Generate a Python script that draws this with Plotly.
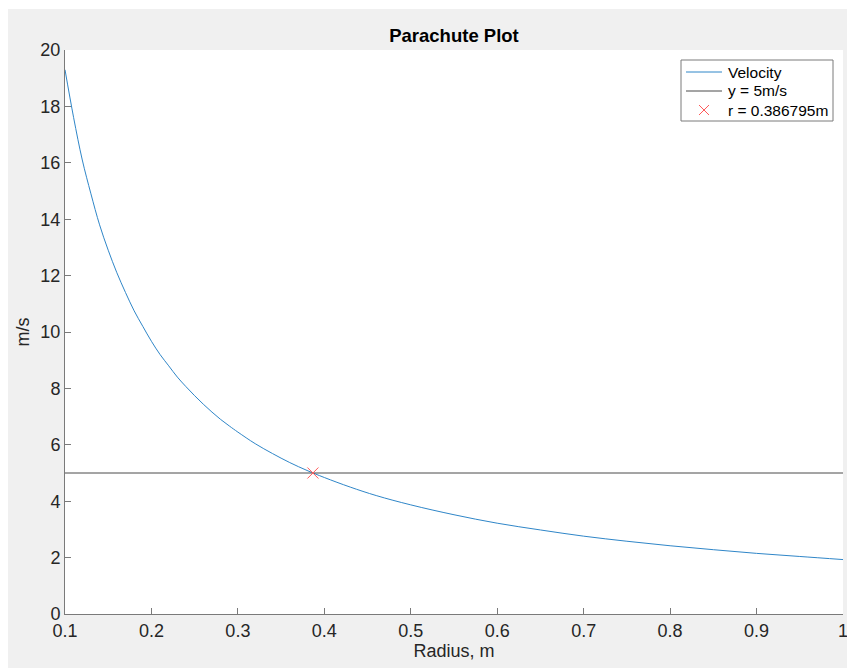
import plotly.graph_objects as go

# Data
radius = [0.10, 0.11, 0.12, 0.13, 0.14, 0.15, 0.16, 0.17, 0.18, 0.19, 0.20, 0.21,
          0.22, 0.23, 0.24, 0.25, 0.26, 0.27, 0.28, 0.29, 0.30, 0.32, 0.34, 0.36,
          0.38, 0.40, 0.43, 0.46, 0.50, 0.55, 0.60, 0.65, 0.70, 0.75, 0.80, 0.85,
          0.90, 0.95, 1.00]
velocity = [19.3, 17.6, 16.1, 14.9, 13.8, 12.9, 12.1, 11.4, 10.75, 10.2, 9.67, 9.2,
            8.8, 8.4, 8.06, 7.74, 7.44, 7.16, 6.9, 6.67, 6.45, 6.04, 5.69, 5.37,
            5.09, 4.84, 4.5, 4.2, 3.87, 3.52, 3.22, 2.98, 2.76, 2.58, 2.42, 2.28,
            2.15, 2.04, 1.93]
target_x = [0.1, 1.0]
target_y = [5, 5]
cross_r = [0.386795]
cross_v = [5]

series_names = ["Velocity", "y = 5m/s", "r = 0.386795m"]

x_ticks = [0.1, 0.2, 0.3, 0.4, 0.5, 0.6, 0.7, 0.8, 0.9, 1]
x_tick_text = ["0.1", "0.2", "0.3", "0.4", "0.5", "0.6", "0.7", "0.8", "0.9", "1"]
y_ticks = [0, 2, 4, 6, 8, 10, 12, 14, 16, 18, 20]

FONT = "Liberation Sans, Arial, Helvetica, sans-serif"
TXT = "#262626"
AX = "#7a7a7a"
BLUE = "#2f86c8"
DARK = "#4a4a4a"
RED = "#ff5a5a"

fig = go.Figure()
fig.add_trace(go.Scatter(x=radius, y=velocity, mode="lines", name=series_names[0],
                         line=dict(color=BLUE, width=1, shape="spline"), showlegend=False))
fig.add_trace(go.Scatter(x=target_x, y=target_y, mode="lines", name=series_names[1],
                         line=dict(color=DARK, width=1), showlegend=False))
fig.add_trace(go.Scatter(x=cross_r, y=cross_v, mode="markers", name=series_names[2],
                         marker=dict(symbol="x-thin-open", size=11, color=RED,
                                     line=dict(color=RED, width=1)), showlegend=False))

# page pixel layout (body margin removed by post_script)
L, R, T, B = 65, 4, 50, 54
W, H = 847, 668
pw, ph = W - L - R, H - T - B

def px(fx):
    return (fx - L) / pw

def py(fy):
    return (H - B - fy) / ph

shapes = [
    # grey figure window (starts at 8,9 like the reference capture)
    dict(type="rect", xref="paper", yref="paper", layer="below",
         x0=px(8), x1=px(W + 5), y0=py(H + 5), y1=py(9),
         fillcolor="#f0f0f0", line=dict(width=0)),
    # white axes area
    dict(type="rect", xref="paper", yref="paper", layer="below",
         x0=0, x1=1, y0=0, y1=1, fillcolor="white", line=dict(width=0)),
    # hand-drawn MATLAB-style legend box
    dict(type="rect", xref="paper", yref="paper", x0=px(681), x1=px(833),
         y0=py(121), y1=py(60), fillcolor="white", line=dict(color="#7a7a7a", width=1)),
    dict(type="line", xref="paper", yref="paper", x0=px(686), x1=px(722),
         y0=py(72), y1=py(72), line=dict(color=BLUE, width=1)),
    dict(type="line", xref="paper", yref="paper", x0=px(686), x1=px(722),
         y0=py(91), y1=py(91), line=dict(color=DARK, width=1)),
    dict(type="line", xref="paper", yref="paper", x0=px(699), x1=px(709),
         y0=py(105), y1=py(115), line=dict(color=RED, width=1)),
    dict(type="line", xref="paper", yref="paper", x0=px(699), x1=px(709),
         y0=py(115), y1=py(105), line=dict(color=RED, width=1)),
]
annotations = [
    dict(text=name, xref="paper", yref="paper", x=px(726), y=py(fy), xanchor="left",
         yanchor="middle", showarrow=False, font=dict(size=15.5, color="black"))
    for name, fy in zip(series_names, [72, 91, 110])
]
# last x tick label sits at the very edge of the window; drawn as an annotation so
# plotly neither hides it nor pushes the margin
annotations.append(dict(text=x_tick_text[-1], xref="x", yref="paper", x=x_ticks[-1], y=0,
                        xanchor="center", yanchor="middle", yshift=-17, showarrow=False,
                        font=dict(size=18, color=TXT, family=FONT)))
shown_tick_text = x_tick_text[:-1] + [""]

fig.update_layout(
    width=W, height=H,
    margin=dict(l=L, r=R, t=T, b=B),
    paper_bgcolor="white",
    plot_bgcolor="white",
    font=dict(family=FONT, color=TXT, size=18),
    title=dict(text="<b>Parachute Plot</b>", x=0.5, xref="paper", xanchor="center",
               y=1 - 36 / H, yref="container", yanchor="middle",
               font=dict(size=18.5, color="black")),
    showlegend=False,
    shapes=shapes,
    annotations=annotations,
)

fig.update_xaxes(range=[0.1, 1], tickvals=x_ticks, ticktext=shown_tick_text,
                 showgrid=False, zeroline=False, showline=True, linecolor=AX, linewidth=1,
                 ticks="inside", ticklen=6, tickcolor=AX, mirror=False, automargin=False,
                 tickfont=dict(size=18, color=TXT),
                 title=dict(text="Radius, m", font=dict(size=18, color=TXT), standoff=2))
fig.update_yaxes(range=[0, 20], tickvals=y_ticks,
                 showgrid=False, zeroline=False, showline=True, linecolor=AX, linewidth=1,
                 ticks="inside", ticklen=6, tickcolor=AX, mirror=False, automargin=False,
                 tickfont=dict(size=18, color=TXT),
                 title=dict(text="m/s", font=dict(size=18, color=TXT), standoff=6))

fig.write_html("out.html", config={"responsive": False, "displayModeBar": False},
               post_script="document.body.style.margin='0';"
                           "document.documentElement.style.overflow='hidden';"
                           "document.body.style.overflow='hidden';")
